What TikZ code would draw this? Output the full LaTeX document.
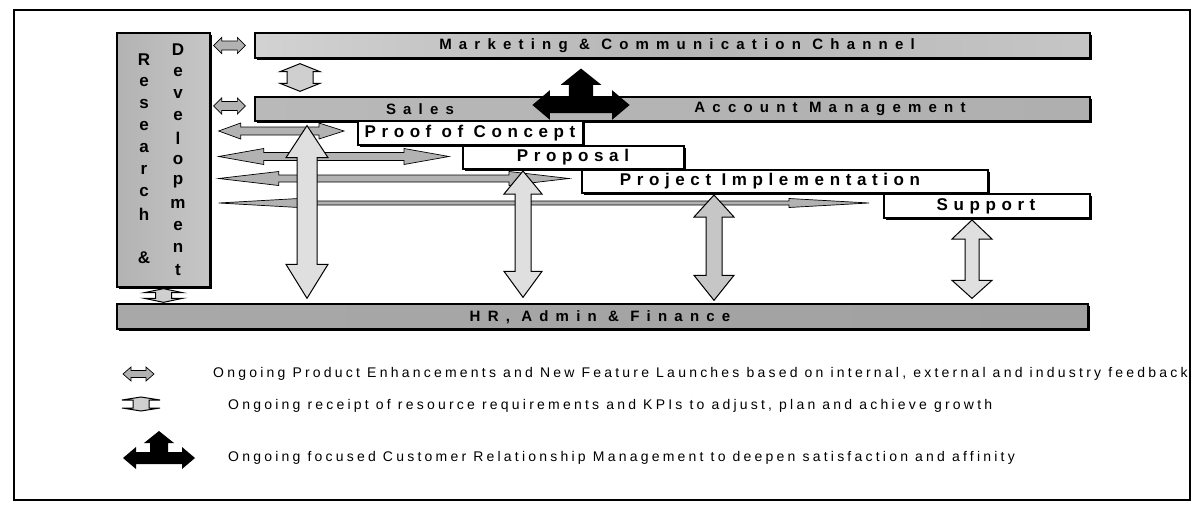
\documentclass[tikz,border=0pt]{standalone}
\usepackage{fontspec}
\setmainfont{Liberation Sans}
\newfontfamily\barfont[LetterSpace=48]{Liberation Sans}
\newfontfamily\stagefont[LetterSpace=33]{Liberation Sans}
\newfontfamily\legendfont[LetterSpace=23]{Liberation Sans}
\usetikzlibrary{calc,shadows}

% horizontal double arrow: style, left end, right end, shaft half, head half, left head, right head
\newcommand\hdbl[7]{%
  \path[#1] let \p1=(#2), \p2=(#3) in
    (\x1,\y1) -- (\x1+#6,\y1+#5) -- (\x1+#6,\y1+#4) -- (\x2-#7,\y1+#4) -- (\x2-#7,\y1+#5)
    -- (\x2,\y1) -- (\x2-#7,\y1-#5) -- (\x2-#7,\y1-#4) -- (\x1+#6,\y1-#4) -- (\x1+#6,\y1-#5) -- cycle;}
% vertical double arrow: style, top end, bottom end, shaft half, head half, top head, bottom head
\newcommand\vdbl[7]{%
  \path[#1] let \p1=(#2), \p2=(#3) in
    (\x1,\y1) -- (\x1+#5,\y1-#6) -- (\x1+#4,\y1-#6) -- (\x1+#4,\y2+#7) -- (\x1+#5,\y2+#7)
    -- (\x1,\y2) -- (\x1-#5,\y2+#7) -- (\x1-#4,\y2+#7) -- (\x1-#4,\y1-#6) -- (\x1-#5,\y1-#6) -- cycle;}
% three-headed customer relationship arrow around a centre point
\newcommand\crmcross[2]{%
  \fill[crm, shift={(#1)}, scale=#2]
    (0,-27) -- (15,-15) -- (9,-15) -- (9,-6) -- (23,-6) -- (23,-11) -- (36,0) -- (23,11) -- (23,6)
    -- (-23,6) -- (-23,11) -- (-36,0) -- (-23,-11) -- (-23,-6) -- (-9,-6) -- (-9,-15) -- (-15,-15) -- cycle;}

\begin{document}
\begin{tikzpicture}[x=1pt,y=-1pt,
  bar/.style={draw=black, line width=1.3pt, inner sep=0pt,
    drop shadow={shadow xshift=2pt, shadow yshift=-2pt, fill=black, opacity=1}},
  stage/.style={draw=black, line width=2pt, fill=white, inner sep=0pt,
    drop shadow={shadow xshift=1.5pt, shadow yshift=-1.5pt, fill=black, opacity=1}},
  bartxt/.style={font=\barfont\bfseries\fontsize{15}{15}\selectfont, inner sep=0pt},
  stagetxt/.style={font=\stagefont\bfseries\fontsize{17}{17}\selectfont, inner sep=0pt},
  rdtxt/.style={font=\bfseries\fontsize{17}{17}\selectfont, inner sep=0pt},
  legtxt/.style={font=\legendfont\fontsize{14}{14}\selectfont, inner sep=0pt, anchor=west},
  feed/.style={draw=black, line width=0.7pt, fill=gray!60},
  big/.style={draw=black, line width=1pt, fill=gray!25},
  link/.style={draw=black, line width=1pt, fill=gray!38},
  crm/.style={fill=black}]
\useasboundingbox (0,0) rectangle (1195,506);

% outer frame
\node[draw=black, line width=2pt, minimum width=1176pt, minimum height=490pt, inner sep=0pt] (frame) at (602,255) {};

% functional bars
\node[bar, left color=gray!60, right color=gray!45, minimum width=93pt, minimum height=254pt] (rd) at (163.5,160) {};
\node[bar, left color=gray!35, right color=gray!45, middle color=gray!58, minimum width=835pt, minimum height=25pt] (mkt) at (672.5,45.5) {};
\node[bar, left color=gray!55, right color=gray!63, minimum width=835pt, minimum height=24pt] (sales) at (672.5,109) {};
\node[bar, left color=gray!68, right color=gray!74, minimum width=971pt, minimum height=25pt] (hr) at (602.5,316.5) {};

\node[bartxt] (mktt) at (677,45.5) {Marketing \& Communication Channel};
\node[bartxt] (salest) at (420,109) {Sales};
\node[bartxt] (acct) at (830,109) {Account Management};
\node[bartxt] (hrt) at (600,317) {HR, Admin \& Finance};

% research & development column
\foreach \ch [count=\i] in {R,e,s,e,a,r,c,h}
  \node[rdtxt] (rs\i) at (144,38+22*\i) {\ch};
\node[rdtxt] (ramp) at (144,258) {\&};
\foreach \ch [count=\i] in {D,e,v,e,l,o,p,m,e,n,t}
  \node[rdtxt] (dv\i) at (178,28+22*\i) {\ch};

% sales cycle stages
\node[stage, minimum width=225pt, minimum height=24pt] (poc) at (470.5,133) {};
\node[stage, minimum width=221pt, minimum height=23pt] (prop) at (573.5,157.5) {};
\node[stage, minimum width=406pt, minimum height=23pt] (impl) at (785,181.5) {};
\node[stage, minimum width=206pt, minimum height=24pt] (sup) at (987,206) {};

\node[stagetxt] (poct) at (470,133) {Proof of Concept};
\node[stagetxt] (propt) at (573,157.5) {Proposal};
\node[stagetxt] (implt) at (770,181.5) {Project Implementation};
\node[stagetxt] (supt) at (986,206) {Support};

% product feedback arrows from R&D
\coordinate (m1) at ($(rd.east |- mkt.west)+(3,0)$);
\coordinate (m2) at ($(mkt.west)+(-9,0)$);
\hdbl{feed}{m1}{m2}{4.5pt}{8pt}{8pt}{8pt}
\coordinate (s1) at ($(rd.east |- sales.west)+(3,-3)$);
\coordinate (s2) at ($(sales.west)+(-9,-3)$);
\hdbl{feed}{s1}{s2}{4.5pt}{8pt}{8pt}{8pt}

\coordinate (f1a) at ($(rd.east |- poc.west)+(8,-2)$);
\coordinate (f1b) at ($(poc.west)+(-13,-2)$);
\hdbl{feed}{f1a}{f1b}{4pt}{8pt}{22pt}{25pt}
\coordinate (f2a) at ($(rd.east |- prop.west)+(8,-1)$);
\coordinate (f2b) at ($(prop.west)+(-13,-1)$);
\hdbl{feed}{f2a}{f2b}{4pt}{8pt}{45pt}{45pt}
\coordinate (f3a) at ($(rd.east |- impl.west)+(8,-3)$);
\coordinate (f3b) at ($(impl.west)+(-12,-3)$);
\hdbl{feed}{f3a}{f3b}{3.5pt}{7pt}{60pt}{60pt}
\coordinate (f4a) at ($(rd.east |- sup.west)+(8,-3)$);
\coordinate (f4b) at ($(sup.west)+(-14,-3)$);
\hdbl{feed}{f4a}{f4b}{2pt}{4.5pt}{80pt}{80pt}

% marketing <-> sales
\coordinate (ms1) at ($(mkt.south -| 300,0)+(0,5)$);
\coordinate (ms2) at ($(sales.north -| 300,0)+(0,-5)$);
\vdbl{link}{ms1}{ms2}{13pt}{20pt}{8pt}{8pt}

% R&D <-> HR resource link
\coordinate (rh1) at ($(rd.south)+(0,1)$);
\coordinate (rh2) at ($(rd.south |- hr.north)+(0,-1)$);
\vdbl{link}{rh1}{rh2}{8pt}{19pt}{4pt}{4pt}

% stage <-> HR, Admin & Finance arrows
\coordinate (v1a) at ($(sales.south -| 307,0)+(0,4)$);
\coordinate (v1b) at ($(hr.north -| 307,0)+(0,-5)$);
\vdbl{big}{v1a}{v1b}{10pt}{21pt}{32pt}{34pt}
\coordinate (v2a) at ($(prop.south -| 523,0)+(0,1)$);
\coordinate (v2b) at ($(hr.north -| 523,0)+(0,-6)$);
\vdbl{big}{v2a}{v2b}{8pt}{19pt}{23pt}{26pt}
\coordinate (v3a) at ($(impl.south -| 714,0)+(0,1)$);
\coordinate (v3b) at ($(hr.north -| 714,0)+(0,-3)$);
\vdbl{big, fill=gray!45}{v3a}{v3b}{8pt}{20pt}{22pt}{25pt}
\coordinate (v4a) at ($(sup.south -| 972,0)+(0,1)$);
\coordinate (v4b) at ($(hr.north -| 972,0)+(0,-5)$);
\vdbl{big}{v4a}{v4b}{7pt}{20pt}{19pt}{18pt}

% customer relationship management
\coordinate (crmc) at (581,105);
\crmcross{crmc}{1.35}

% legend
\coordinate (k1a) at (123,374);
\coordinate (k1b) at (154,374);
\hdbl{feed}{k1a}{k1b}{3.5pt}{7pt}{8pt}{8pt}
\node[legtxt] (l1) at (213,374) {Ongoing Product Enhancements and New Feature Launches based on internal, external and industry feedback};

\coordinate (k2a) at (141,397);
\coordinate (k2b) at (141,411);
\vdbl{link}{k2a}{k2b}{8pt}{19pt}{3pt}{3pt}
\node[legtxt] (l2) at (228,406) {Ongoing receipt of resource requirements and KPIs to adjust, plan and achieve growth};

\coordinate (k3c) at (159,458);
\crmcross{k3c}{1}
\node[legtxt] (l3) at (228,458) {Ongoing focused Customer Relationship Management to deepen satisfaction and affinity};
\end{tikzpicture}
\end{document}
